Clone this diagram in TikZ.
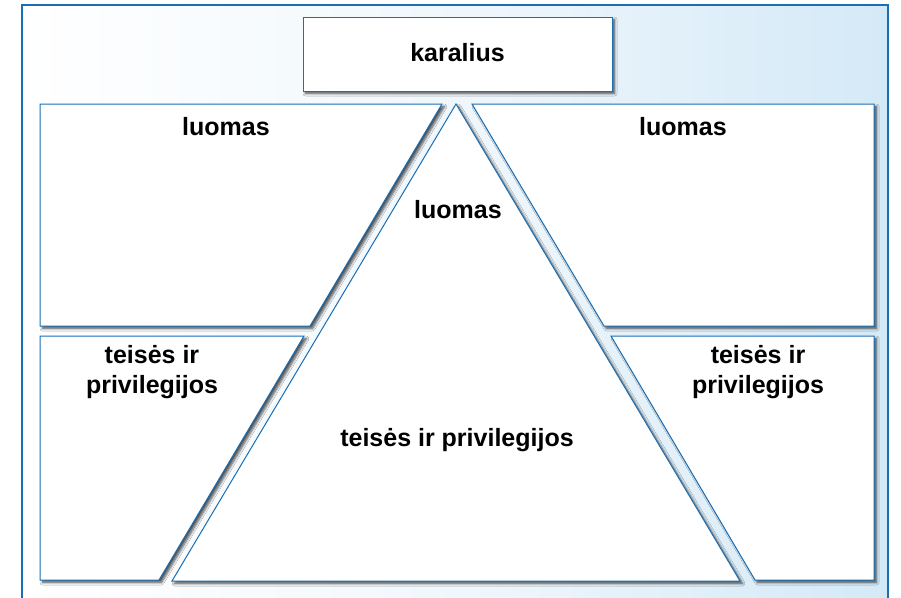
\documentclass[tikz,border=0pt]{standalone}
\usepackage{fontspec}
\setmainfont{Liberation Sans}
\usetikzlibrary{shadows.blur}
\definecolor{edgeblue}{RGB}{26,110,180}
\definecolor{bgblue}{RGB}{212,233,247}
\begin{document}
\begin{tikzpicture}[x=1pt,y=-1pt,
  panel/.style={draw=edgeblue, line width=1pt, fill=white,
    blur shadow={shadow xshift=2.5pt, shadow yshift=-2.5pt, shadow blur steps=6, shadow blur radius=2.5pt, shadow opacity=70}},
  lbl/.style={font=\bfseries\fontsize{25}{30}\selectfont, align=center, inner sep=0pt}]
\useasboundingbox (0,0) rectangle (901,597);
\clip (0,0) rectangle (901,597);
% background frame
\shade[left color=white, right color=bgblue, middle color=bgblue!35] (22,5) rectangle (888,620);
\draw[edgeblue, line width=1.1pt] (22,620) -- (22,5) -- (888,5) -- (888,620);
% king box
\draw[panel] (303,17) rectangle (612,91);
% top-left and top-right panels
\draw[panel] (40,104) -- (442,104) -- (310,326) -- (40,326) -- cycle;
\draw[panel] (472,104) -- (874,104) -- (874,326) -- (604,326) -- cycle;
% bottom-left and bottom-right panels
\draw[panel] (40,336) -- (304,336) -- (159,580) -- (40,580) -- cycle;
\draw[panel] (611,336) -- (874,336) -- (874,580) -- (755,580) -- cycle;
% triangle
\draw[panel] (456,104) -- (740,581) -- (172,581) -- cycle;
% labels
\node[lbl] (king) at (457.5,53) {karalius};
\node[lbl] (lTL) at (226,127) {luomas};
\node[lbl] (lTR) at (683,127) {luomas};
\node[lbl] (lTri) at (458,210) {luomas};
\node[lbl] (tBL) at (152,372) {teisės ir\\privilegijos};
\node[lbl] (tBR) at (758,372) {teisės ir\\privilegijos};
\node[lbl] (tTri) at (457,440) {teisės ir privilegijos};
\end{tikzpicture}
\end{document}
